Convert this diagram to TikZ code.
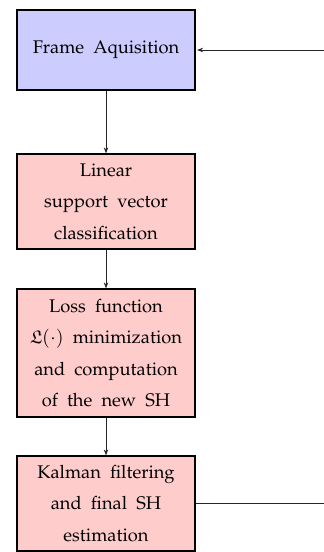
\documentclass[tikz,border=0pt]{standalone}
\usepackage[T1]{fontenc}
\usepackage{mathpazo}
\usepackage{amssymb}
\usetikzlibrary{arrows.meta}
\begin{document}
\begin{tikzpicture}[x=1pt,y=1pt,
  blk/.style={draw=black, line width=1.3pt, minimum width=178pt, align=center, inner sep=0pt,
    font=\fontsize{18.3}{31.6}\selectfont},
  blueblk/.style={blk, fill=blue!20},
  redblk/.style={blk, fill=red!20},
  conn/.style={draw=black!85, line width=0.7pt},
  arr/.style={conn, -{Stealth[length=6pt,width=4.5pt]}}]
\useasboundingbox (0,0) rectangle (324,-552);
\node[blueblk, minimum height=80pt] (f) at (106,-50) {Frame\ \ Aquisition};
\node[redblk, minimum height=95pt] (s) at (106,-201.5) {Linear\\support\ \ vector\\classification};
\node[redblk, minimum height=128pt] (l) at (106,-353) {Loss\ \ function\\$\mathfrak{L}(\cdot)$\ \ minimization\\and\ \ computation\\of\ \ the\ \ new\ \ SH};
\node[redblk, minimum height=95pt] (k) at (106,-503.5) {Kalman\ \ filtering\\and\ \ final\ \ SH\\estimation};
\coordinate (e1) at (324,-50);
\coordinate (e2) at (324,-503.5);
\draw[arr] (f) -- (s);
\draw[arr] (s) -- (l);
\draw[arr] (l) -- (k);
\draw[conn] (k.east) -- (e2);
\draw[arr] (e1) -- ([xshift=1.5pt]f.east);
\end{tikzpicture}
\end{document}
